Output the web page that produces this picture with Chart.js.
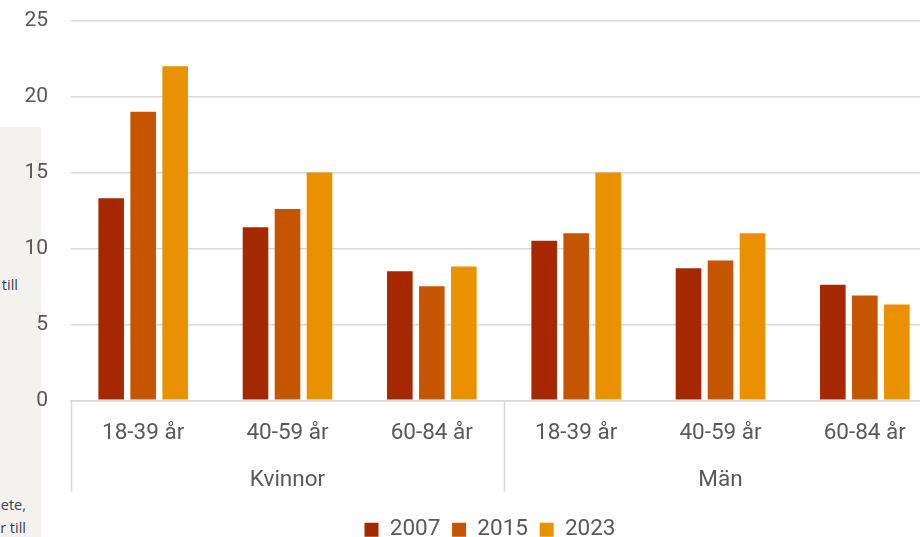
<!DOCTYPE html>
<html>
<head>
<meta charset="utf-8">
<script src="https://cdn.jsdelivr.net/npm/chart.js@4/dist/chart.umd.min.js"></script>
<style>
  html, body { margin: 0; padding: 0; width: 920px; height: 537px; overflow: hidden; background: #ffffff; }
  #panel { position: absolute; left: 0; top: 127px; width: 41px; height: 410px; background: #f3f2ef; overflow: hidden; }
  #panel span { position: absolute; font-family: "Open Sans", "Noto Sans", sans-serif; font-size: 14.5px; color: #38404f; white-space: nowrap; line-height: 16px; }
  #wrap { position: absolute; left: 0; top: 0; width: 937px; height: 551px; }
</style>
</head>
<body>
<div id="panel">
  <span style="right:23px; top:150px;">till</span>
  <span style="right:15px; top:370px;">ete,</span>
  <span style="right:15px; top:393px;">r till</span>
</div>
<div id="wrap"><canvas id="c"></canvas></div>
<script>
const categories = ['18-39 år', '40-59 år', '60-84 år', '18-39 år', '40-59 år', '60-84 år'];
const groups = ['Kvinnor', 'Män'];
const seriesNames = ['2007', '2015', '2023'];
const values2007 = [13.3, 11.4, 8.5, 10.5, 8.7, 7.6];
const values2015 = [19.0, 12.6, 7.5, 11.0, 9.2, 6.9];
const values2023 = [22.0, 15.0, 8.8, 15.0, 11.0, 6.3];
const yTicks = [0, 5, 10, 15, 20, 25];

const colors = ['#a52800', '#c65500', '#ea9100'];
const textColor = '#595959';
const gridColor = '#d9d9d9';
const family = 'Roboto, "Liberation Sans", sans-serif';
const labelFont = { family, size: 22.5 };
const yFont = { family, size: 21 };
const EXTRA = 12.5;

const layoutPlugin = {
  id: 'groupDividers',
  afterLayout(chart) {
    // centre the legend under the visible figure
    if (chart.legend) { chart.legend.left += 43; }
  },
  afterDraw(chart) {
    const x = chart.scales.x;
    const x2 = chart.scales.x2;
    const ctx = chart.ctx;
    const top = chart.chartArea.bottom;
    const bottom = x2.bottom - EXTRA - 2;
    const per = categories.length / groups.length;
    ctx.save();
    ctx.strokeStyle = gridColor;
    ctx.lineWidth = 1.5;
    for (let g = 0; g <= groups.length; g++) {
      const px = Math.round(x.getPixelForValue(g * per - 0.5)) + 0.5;
      ctx.beginPath();
      ctx.moveTo(px, top);
      ctx.lineTo(px, bottom);
      ctx.stroke();
    }
    ctx.restore();
  }
};

new Chart(document.getElementById('c'), {
  type: 'bar',
  data: {
    labels: categories,
    datasets: [
      { label: seriesNames[0], data: values2007, backgroundColor: colors[0] },
      { label: seriesNames[1], data: values2015, backgroundColor: colors[1] },
      { label: seriesNames[2], data: values2023, backgroundColor: colors[2] }
    ]
  },
  options: {
    responsive: true,
    maintainAspectRatio: false,
    animation: false,
    datasets: { bar: { categoryPercentage: 0.665, barPercentage: 0.8 } },
    layout: { padding: { left: 0, right: 0, top: 0, bottom: 0 } },
    scales: {
      y: {
        min: 0, max: 25,
        afterFit(s) { s.width = 71; },
        afterBuildTicks(s) { s.ticks = yTicks.map(v => ({ value: v })); },
        ticks: { padding: 8, color: textColor, font: yFont },
        grid: { color: gridColor, lineWidth: 1.5, drawTicks: true, tickLength: 15, tickColor: 'rgba(0,0,0,0)' },
        border: { display: false }
      },
      x: {
        position: 'bottom',
        ticks: { padding: 20, color: textColor, font: labelFont, autoSkip: false, maxRotation: 0 },
        grid: { display: false, drawTicks: false },
        border: { display: true, color: gridColor, width: 1.5 }
      },
      x2: {
        type: 'category',
        position: 'bottom',
        labels: groups,
        offset: true,
        afterFit(s) { s.height += EXTRA; },
        ticks: { padding: 0, color: textColor, font: labelFont, autoSkip: false, maxRotation: 0 },
        grid: { display: false, drawTicks: false },
        border: { display: false }
      }
    },
    plugins: {
      legend: {
        position: 'bottom',
        labels: { color: textColor, font: labelFont, boxWidth: 14, boxHeight: 14, padding: 11.75 }
      },
      tooltip: { enabled: false }
    }
  },
  plugins: [layoutPlugin]
});
</script>
</body>
</html>
